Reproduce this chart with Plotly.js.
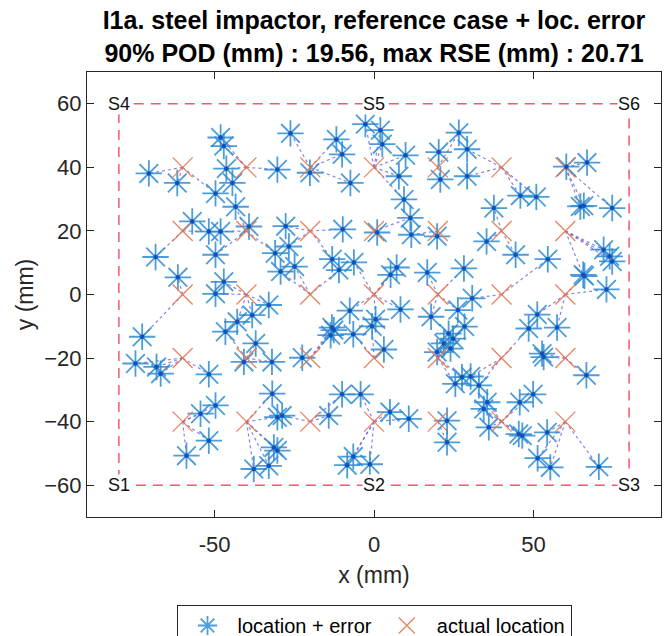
<!DOCTYPE html>
<html>
<head>
<meta charset="utf-8">
<script src="https://cdn.plot.ly/plotly-3.0.1.min.js"></script>
<style>html,body{margin:0;padding:0;background:#fff;}#chart{width:666px;height:636px;}</style>
</head>
<body>
<div id="chart"></div>
<script>
// Sensor positions
const sensorNames = ["S1","S2","S3","S4","S5","S6"];
const sensorX = [-80, 0, 80, -80, 0, 80];
const sensorY = [-60, -60, -60, 60, 60, 60];
const boxX = [-80, 80, 80, -80, -80];
const boxY = [-60, -60, 60, 60, -60];

// Actual impact locations
const actualX = [-60,-40,-20,0,20,40,60, -60,-40,-20,0,20,40,60, -60,-40,-20,0,20,40,60, -60,-40,-20,0,20,40,60, -60,-40,-20,0,20,40,60];
const actualY = [40,40,40,40,40,40,40, 20,20,20,20,20,20,20, 0,0,0,0,0,0,0, -20,-20,-20,-20,-20,-20,-20, -40,-40,-40,-40,-40,-40,-40];

// Located positions (location + error)
const errX = [-70.6,-61.7,-48.1,-47.1,-46.3,-44.4,-49.7,-43.4,-30.3,-57,-51.8,-48.1,-39.2,-68.5,-49.7,-31,-29.3,-61.5,-47.1,-49.7,-33,-38.2,-42.9,-46.6,-37.1,-72.7,-74.8,-68.2,-66.9,-51.8,-40.8,-32,-49.7,-54.4,-51.8,-58.8,-31.9,-30.3,-31.4,-30.3,-33,-37.7,-26.2,-20.1,-11.8,-10,-7.4,-2.7,2,2.6,9.9,7.8,9.4,11.4,26.6,20.3,29.2,20.8,29.2,60.3,66.8,45.9,50.9,37.6,64.7,65.8,74.7,-27.7,-9.8,1,11.7,19.8,-26.7,-24.9,-13.1,-11,-6.3,7.1,5.2,16.7,28.2,-7.6,0.5,-0.6,8.3,17.9,26.3,28.4,-12.6,-13.6,-13.2,-6.5,23.4,24.8,21.9,24,3.1,-22.5,19.8,27.6,35.3,44.4,54.5,72,73.9,74.7,65.6,66,72.9,30.8,51.2,48.5,57.4,52.7,53.2,30.3,66.6,-28.8,-14.2,-10,-4.2,5,10.9,22.9,22.9,25.5,-6.5,-8.4,-1.3,32.9,35.5,34.4,36,45.7,49.9,45.4,46.5,54.3,51.3,55.3,70.5];
const errY = [38.1,35.1,49.4,46.7,39.6,35.1,31.8,27.6,39.3,23,19.8,19.8,21.4,11.8,12.5,13,7.2,5.4,4,0.2,-3.3,-6.5,-8.6,-11.7,-15.4,-13.3,-21.7,-22.8,-24.9,-25.1,-21.2,-21.2,-34.9,-37.5,-46,-50.7,-31.2,-38.6,-48.1,-49.1,-53.9,-54.9,50.7,38.3,48.8,44.1,35.1,53.6,51.7,47.3,43.8,37.2,29.9,24.1,50.9,44.8,45.7,36.2,37.2,40.2,41.5,31.1,30.7,27.2,27.7,27.9,27.2,21.5,20.5,19.5,18.8,18.3,15.1,8.8,11.1,7.7,10.1,8.5,6.2,6.9,8.2,-5.1,-7.8,-10,-4.7,-7,-4.9,-10.1,-11.2,-12.8,-10.4,-12.5,-12.3,-13.9,-15.4,-17,-17.3,-19.9,-18.1,-26,16.7,12.5,11.1,14.1,12,10.4,6.2,5.8,1.6,-1.2,-6.3,-10.7,-10.4,-18.6,-19.7,-25.8,-25.4,-38.1,-38.1,-31.4,-31.4,-37,-39.1,-39.7,-46.5,-28.1,-51,-53.7,-53.4,-28.6,-33.9,-36,-41.8,-33.9,-31.4,-43.9,-44.4,-43.4,-51.5,-54.4,-54.2];
// Actual location each located point belongs to
const linkX = [-60,-60,-40,-40,-40,-40,-60,-40,-40,-60,-60,-40,-40,-60,-40,-40,-20,-60,-40,-40,-40,-40,-40,-40,-40,-60,-60,-60,-60,-60,-40,-40,-60,-60,-60,-60,-40,-40,-40,-40,-40,-40,-20,-20,-20,-20,-20,0,0,0,0,0,0,0,20,20,40,20,40,60,60,40,40,40,60,60,60,-20,-20,0,20,20,-20,-20,-20,-20,0,0,0,20,20,0,0,0,0,20,20,20,-20,-20,-20,0,20,20,20,20,0,-20,20,20,40,40,40,60,60,60,60,60,60,40,60,40,60,60,60,40,60,-20,-20,-20,0,0,0,20,20,20,0,0,0,40,40,40,40,40,40,40,40,60,60,60,60];
const linkY = [40,40,40,40,40,40,40,20,40,20,20,20,20,20,20,20,0,0,0,0,0,0,0,-20,-20,0,-20,-20,-20,-20,-20,-20,-40,-40,-40,-40,-40,-40,-40,-40,-40,-40,40,40,40,40,40,40,40,40,40,40,40,20,40,40,40,40,40,40,40,40,40,20,40,40,40,20,20,20,20,20,20,0,20,0,0,0,0,0,0,0,0,-20,0,0,0,-20,-20,-20,-20,-20,-20,-20,-20,-20,-20,-20,-20,-20,20,20,0,20,20,20,20,0,0,0,0,-20,0,-20,-20,-20,-20,-40,-40,-40,-40,-40,-40,-40,-40,-20,-40,-40,-40,-20,-40,-40,-40,-40,-40,-40,-40,-40,-40,-40,-40];

const lx = [], ly = [];
for (let i = 0; i < errX.length; i++) {
  lx.push(linkX[i], errX[i], null);
  ly.push(linkY[i], errY[i], null);
}

const FONT = '"Liberation Sans", Arial, Helvetica, sans-serif';
const traces = [
  {x: lx, y: ly, mode: 'lines', showlegend: false, hoverinfo: 'skip',
   line: {color: 'rgba(100,90,215,0.75)', width: 1.2, dash: 'dot'}},
  {x: boxX, y: boxY, mode: 'lines', showlegend: false, hoverinfo: 'skip',
   line: {color: 'rgba(240,70,90,0.9)', width: 1.5, dash: '10px,7px'}},
  {x: errX, y: errY, mode: 'markers', name: 'location + error',
   marker: {symbol: 'asterisk-open', size: 22, color: 'rgba(45,140,210,0.85)',
            line: {color: 'rgba(45,140,210,0.85)', width: 1.8}}},
  {x: actualX, y: actualY, mode: 'markers', name: 'actual location',
   marker: {symbol: 'x-thin-open', size: 20, color: 'rgba(225,120,80,0.9)',
            line: {color: 'rgba(225,120,80,0.9)', width: 1.3}}},
  {x: errX, y: errY, mode: 'markers', showlegend: false, hoverinfo: 'skip',
   marker: {symbol: 'circle', size: 4.5, color: 'rgb(20,80,185)'}}
];

const annotations = sensorNames.map((s, i) => ({
  x: sensorX[i], y: sensorY[i], xref: 'x', yref: 'y', text: s, showarrow: false,
  xanchor: 'center', yanchor: 'middle', bgcolor: '#ffffff', borderpad: 0,
  font: {family: FONT, size: 18, color: '#111111'}
}));

const layout = {
  width: 666, height: 636,
  margin: {l: 87, r: 5, t: 72, b: 119},
  paper_bgcolor: '#ffffff', plot_bgcolor: '#ffffff',
  font: {family: FONT, color: '#262626'},
  title: {text: '<b>I1a. steel impactor, reference case + loc. error<br>90% POD (mm) : 19.56, max RSE (mm) : 20.71</b>',
          x: 0.5, xref: 'paper', xanchor: 'center', y: 1 - 29 / 636, yref: 'container', yanchor: 'middle',
          font: {family: FONT, size: 25, color: '#000000'}},
  xaxis: {range: [-90, 90], tickvals: [-50, 0, 50], ticktext: ['-50', '0', '50'],
          ticks: 'inside', ticklen: 7, tickcolor: '#262626', mirror: 'ticks', automargin: false,
          ticklabelstandoff: 8,
          showline: true, linecolor: '#262626', linewidth: 1, showgrid: false, zeroline: false,
          tickfont: {family: FONT, size: 22, color: '#262626'},
          title: {text: 'x (mm)', font: {family: FONT, size: 23, color: '#262626'}, standoff: 10}},
  yaxis: {range: [-70, 70], tickvals: [-60, -40, -20, 0, 20, 40, 60],
          ticks: 'inside', ticklen: 7, tickcolor: '#262626', mirror: 'ticks', automargin: false,
          showline: true, linecolor: '#262626', linewidth: 1, showgrid: false, zeroline: false,
          tickfont: {family: FONT, size: 22, color: '#262626'},
          title: {text: 'y (mm)', font: {family: FONT, size: 23, color: '#262626'}, standoff: 4}},
  legend: {orientation: 'h', x: 0.5, xanchor: 'center', xref: 'paper',
           y: 1 - 605 / 636, yref: 'container', yanchor: 'top', itemwidth: 50,
           bordercolor: '#262626', borderwidth: 1, bgcolor: '#ffffff',
           font: {family: FONT, size: 20, color: '#000000'}},
  annotations: annotations,
  showlegend: true
};

Plotly.newPlot('chart', traces, layout, {displayModeBar: false, staticPlot: true});
</script>
</body>
</html>
